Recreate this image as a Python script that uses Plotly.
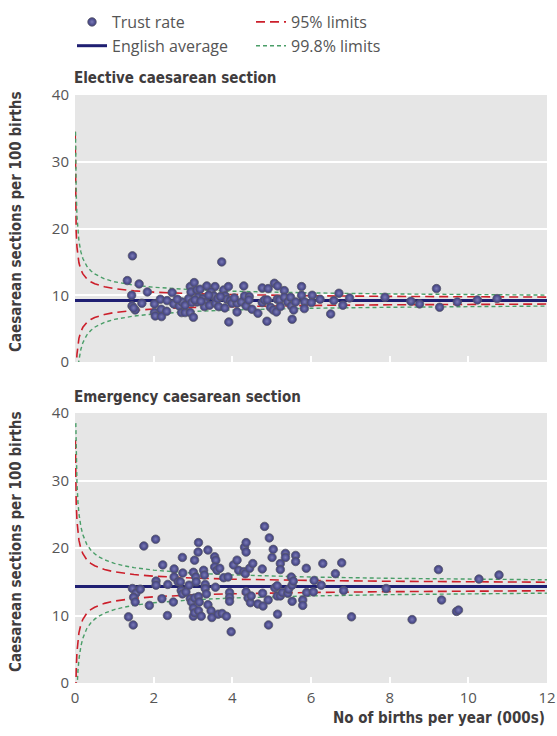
import plotly.graph_objects as go

# ---------------- data ----------------
# Elective caesarean section: births per year (000s), rate per 100 births
ELECT_X = [1.33, 1.46, 1.63, 1.84, 1.44, 1.45, 1.53, 1.49, 1.70, 2.02, 2.02, 2.04, 2.17, 2.19, 2.20,
           2.33, 2.34, 2.47, 2.51, 2.65, 2.72, 2.71, 2.80, 2.93, 3.01, 2.80, 2.89, 2.93, 3.03, 2.95,
           3.10, 3.18, 2.97, 3.10, 3.13, 3.35, 3.56, 3.46, 3.53, 3.25, 3.31, 3.29, 3.42, 3.57, 3.65,
           3.63, 3.73, 3.78, 3.90, 3.82, 3.86, 3.95, 3.81, 3.91, 3.99, 4.12, 4.12, 4.23, 4.29, 4.31,
           4.43, 4.35, 4.42, 4.50, 4.65, 4.76, 4.91, 4.76, 4.82, 4.89, 4.88, 4.97, 5.04, 5.12, 5.07,
           5.15, 5.14, 5.20, 5.22, 5.32, 5.32, 5.41, 5.48, 5.50, 5.56, 5.52, 5.61, 5.76, 5.76, 5.84,
           5.83, 6.03, 6.01, 6.23, 6.50, 6.58, 6.71, 6.81, 6.98, 7.88, 8.54, 8.76, 9.19, 9.27, 9.72,
           10.23, 10.73, 3.05, 3.20, 3.70, 3.40, 4.05, 2.60]
ELECT_Y = [12.2, 15.9, 11.7, 10.5, 10.0, 8.4, 7.8, 8.1, 8.8, 8.7, 7.4, 6.9, 9.4, 7.9, 6.8,
           7.6, 9.2, 10.4, 8.7, 8.4, 9.0, 7.4, 7.4, 7.4, 6.7, 8.5, 9.5, 11.3, 11.9, 10.5,
           10.8, 10.9, 8.9, 9.0, 9.7, 11.4, 11.3, 10.5, 9.9, 9.5, 8.9, 8.3, 8.5, 8.8, 8.3,
           9.5, 15.0, 10.8, 11.3, 9.9, 9.4, 9.2, 8.1, 6.0, 8.8, 8.8, 7.5, 9.0, 11.4, 9.9,
           9.8, 8.4, 9.3, 7.9, 7.3, 11.1, 11.0, 8.9, 9.3, 9.3, 6.1, 8.2, 7.8, 7.5, 11.8,
           11.4, 9.4, 9.3, 8.3, 10.7, 9.7, 9.0, 9.7, 8.4, 7.8, 6.4, 9.0, 11.3, 10.0, 9.0,
           8.0, 10.0, 8.9, 9.4, 7.2, 9.2, 10.3, 8.5, 9.6, 9.7, 9.1, 8.7, 11.0, 8.2, 9.0,
           9.3, 9.5, 9.3, 9.1, 9.8, 10.0, 9.6, 9.4]

# Emergency caesarean section
EMERG_X = [1.36, 1.48, 1.46, 1.55, 1.66, 1.49, 1.53, 1.75, 1.89, 2.05, 2.06, 2.06, 2.21, 2.23, 2.35,
           2.36, 2.50, 2.52, 2.52, 2.62, 2.68, 2.70, 2.73, 2.73, 2.74, 2.82, 2.90, 2.93, 2.96, 3.01,
           3.01, 3.01, 3.04, 3.04, 3.04, 3.07, 3.08, 3.13, 3.14, 3.14, 3.14, 3.16, 3.21, 3.27, 3.29,
           3.31, 3.31, 3.34, 3.38, 3.38, 3.46, 3.48, 3.55, 3.58, 3.55, 3.61, 3.68, 3.57, 3.64, 3.74,
           3.78, 3.85, 3.89, 3.93, 3.93, 3.93, 3.97, 4.03, 4.12, 4.16, 4.29, 4.31, 4.33, 4.35, 4.35,
           4.35, 4.40, 4.44, 4.46, 4.48, 4.52, 4.65, 4.76, 4.77, 4.78, 4.82, 4.91, 4.92, 4.94, 5.01,
           5.04, 5.08, 5.14, 5.14, 5.15, 5.22, 5.22, 5.22, 5.27, 5.35, 5.35, 5.41, 5.43, 5.50, 5.52,
           5.52, 5.55, 5.61, 5.61, 5.79, 5.79, 5.88, 5.89, 6.06, 6.08, 6.26, 6.30, 6.62, 6.78, 6.83,
           7.03, 7.91, 8.57, 9.24, 9.32, 9.70, 9.75, 10.27, 10.78]
EMERG_Y = [9.8, 8.6, 14.0, 13.3, 13.9, 12.7, 12.0, 20.3, 11.5, 21.3, 15.1, 14.5, 12.5, 17.5, 10.0,
           14.6, 12.0, 16.9, 15.7, 15.0, 15.0, 13.7, 13.2, 18.6, 16.3, 13.5, 14.5, 12.5, 12.0, 16.4,
           11.1, 9.9, 18.2, 12.6, 10.4, 15.7, 15.0, 19.4, 20.8, 12.8, 10.7, 12.0, 9.9, 16.7, 16.0,
           14.6, 14.0, 13.2, 19.7, 11.6, 10.7, 9.7, 18.7, 18.2, 17.2, 16.7, 17.0, 14.2, 10.2, 10.3,
           15.6, 9.9, 15.7, 13.4, 12.7, 12.1, 7.6, 17.5, 18.2, 16.7, 16.5, 20.1, 16.2, 20.8, 19.4,
           13.5, 12.6, 17.0, 11.9, 12.9, 17.7, 11.7, 16.9, 13.3, 11.4, 23.2, 12.3, 8.6, 21.5, 18.6,
           19.8, 14.1, 14.4, 12.9, 10.2, 17.7, 16.8, 12.9, 13.4, 19.2, 18.6, 13.3, 13.9, 15.7, 14.5,
           12.1, 15.1, 18.9, 18.0, 12.3, 11.5, 17.0, 13.4, 13.5, 15.2, 14.5, 17.7, 16.2, 17.8, 13.7,
           9.8, 14.0, 9.4, 16.8, 12.3, 10.6, 10.8, 15.4, 16.0]

# English averages (per 100 births)
ELECT_AVG = 9.2
EMERG_AVG = 14.3

LIM_X = [0.005, 0.01, 0.0125, 0.02, 0.03, 0.05, 0.075, 0.1, 0.15, 0.2, 0.3, 0.4, 0.5, 0.6,
         0.75, 1, 1.25, 1.5, 2, 2.5, 3, 4, 5, 6, 8, 10, 12]
ELECT_95 = [25.3, 17.9, 16.0, 12.7, 10.35, 8.02, 6.55, 5.66, 4.63, 4.00, 3.27, 2.83, 2.53, 2.31,
            2.07, 1.79, 1.60, 1.46, 1.27, 1.13, 1.03, 0.90, 0.80, 0.73, 0.63, 0.57, 0.52]
ELECT_998 = [None, None, 25.3, 20.0, 16.3, 12.6, 10.3, 8.93, 7.29, 6.30, 5.16, 4.47, 3.99, 3.65,
             3.26, 2.82, 2.53, 2.31, 2.00, 1.79, 1.63, 1.41, 1.26, 1.15, 1.00, 0.89, 0.82]
EMERG_95 = [None, 21.7, 19.4, 15.3, 12.5, 9.70, 7.92, 6.86, 5.61, 4.86, 3.96, 3.43, 3.07, 2.80,
            2.50, 2.17, 1.94, 1.77, 1.53, 1.37, 1.25, 1.08, 0.97, 0.89, 0.77, 0.69, 0.63]
EMERG_998 = [None, None, None, 24.2, 19.7, 15.3, 12.5, 10.8, 8.84, 7.66, 6.24, 5.41, 4.84, 4.42,
             3.95, 3.42, 3.06, 2.79, 2.42, 2.16, 1.97, 1.71, 1.53, 1.40, 1.21, 1.08, 0.99]

X_TICKS = [0, 2, 4, 6, 8, 10, 12]
Y_TICKS = [0, 10, 20, 30, 40]

PANEL_TITLES = ["Elective caesarean section", "Emergency caesarean section"]
Y_TITLE = "Caesarean sections per 100 births"
X_TITLE = "No of births per year (000s)"

# ---------------- style ----------------
DOT = "#3b3b7c"
DOT_HI = "#7b7bb8"
AVG_C = "#1f1f72"
RED = "#cc1f2b"
GREEN = "#4a9e68"
TXT = "#555555"
BOLD_C = "#403c3d"
BG = "#e6e6e6"
REG_FONT = "Open Sans, Noto Sans, sans-serif"
BOLD_FONT = "DejaVu Sans Condensed, DejaVu Sans, sans-serif"

fig = go.Figure()


def upper(avg, offs):
    return [None if o is None else avg + o for o in offs]


def lower(avg, offs):
    return [None if o is None else avg - o for o in offs]


def add_panel(xs, ys, avg, off95, off998, xa, ya, legend_on):
    # 95% limits
    for i, f in enumerate((upper, lower)):
        fig.add_trace(go.Scatter(
            x=LIM_X, y=f(avg, off95), mode="lines", xaxis=xa, yaxis=ya,
            line=dict(color=RED, width=1.6, dash="9px,5px"),
            name="95% limits", legend="legend2", legendgroup="l95", legendrank=1,
            showlegend=legend_on and i == 0, hoverinfo="skip"))
    # 99.8% limits
    for i, f in enumerate((upper, lower)):
        fig.add_trace(go.Scatter(
            x=LIM_X, y=f(avg, off998), mode="lines", xaxis=xa, yaxis=ya,
            line=dict(color=GREEN, width=1.4, dash="4px,3px"),
            name="99.8% limits", legend="legend2", legendgroup="l998", legendrank=2,
            showlegend=legend_on and i == 0, hoverinfo="skip"))
    # English average
    fig.add_trace(go.Scatter(
        x=[0, 12], y=[avg, avg], mode="lines", xaxis=xa, yaxis=ya,
        line=dict(color=AVG_C, width=3),
        name="English average", legend="legend", legendgroup="avg", legendrank=2,
        showlegend=legend_on))
    # Trust rates
    fig.add_trace(go.Scatter(
        x=xs, y=ys, mode="markers", xaxis=xa, yaxis=ya,
        marker=dict(size=8.5, color=DOT, line=dict(color="#5a5a6a", width=0.8),
                    gradient=dict(type="radial", color=DOT_HI)),
        name="Trust rate", legend="legend", legendgroup="trust", legendrank=1,
        showlegend=legend_on))


add_panel(ELECT_X, ELECT_Y, ELECT_AVG, ELECT_95, ELECT_998, "x", "y", True)
add_panel(EMERG_X, EMERG_Y, EMERG_AVG, EMERG_95, EMERG_998, "x2", "y2", False)

W, H = 557, 736
ML, MR, MT, MB = 75, 10, 95, 53
PW, PH = W - ML - MR, H - MT - MB


def py2paper(py):
    return (H - MB - py) / PH


def px2paper(px):
    return (px - ML) / PW


xax = dict(range=[0, 12], tickvals=X_TICKS, ticks="inside", tickcolor="white",
           ticklen=6, tickwidth=2, showgrid=False, zeroline=False, showline=False,
           ticklabelstandoff=4,
           tickfont=dict(family=REG_FONT, size=15, color=TXT))
yax = dict(range=[0, 40], tickvals=Y_TICKS, ticks="", showgrid=True, gridcolor="white",
           gridwidth=2, zeroline=False, showline=False, ticklabelstandoff=5,
           tickfont=dict(family=REG_FONT, size=15, color=TXT))

fig.update_layout(
    width=W, height=H,
    margin=dict(l=ML, r=MR, t=MT, b=MB, autoexpand=False),
    paper_bgcolor="white", plot_bgcolor=BG,
    xaxis=dict(xax, domain=[0, 1], anchor="y", showticklabels=False),
    yaxis=dict(yax, domain=[py2paper(362), 1], anchor="x"),
    xaxis2=dict(xax, domain=[0, 1], anchor="y2", showticklabels=True),
    yaxis2=dict(yax, domain=[0, py2paper(413)], anchor="x2"),
    legend=dict(x=px2paper(72), y=py2paper(5), xanchor="left", yanchor="top",
                traceorder="normal", tracegroupgap=14, bgcolor="rgba(0,0,0,0)",
                font=dict(family=REG_FONT, size=16, color=TXT)),
    legend2=dict(x=px2paper(251), y=py2paper(5), xanchor="left", yanchor="top",
                 traceorder="normal", tracegroupgap=14, bgcolor="rgba(0,0,0,0)",
                 font=dict(family=REG_FONT, size=16, color=TXT)),
    showlegend=True,
)

annotations = [
    dict(text="<b>" + PANEL_TITLES[0] + "</b>", x=px2paper(72), y=py2paper(78),
         xanchor="left", yanchor="middle"),
    dict(text="<b>" + PANEL_TITLES[1] + "</b>", x=px2paper(72), y=py2paper(397),
         xanchor="left", yanchor="middle"),
    dict(text="<b>" + X_TITLE + "</b>", x=1, y=py2paper(718),
         xanchor="right", yanchor="middle"),
    dict(text="<b>" + Y_TITLE + "</b>", x=px2paper(16), y=py2paper(222),
         xanchor="center", yanchor="middle", textangle=-90),
    dict(text="<b>" + Y_TITLE + "</b>", x=px2paper(16), y=py2paper(542),
         xanchor="center", yanchor="middle", textangle=-90),
]
for a in annotations:
    a.update(xref="paper", yref="paper", showarrow=False,
             font=dict(family=BOLD_FONT, size=15, color=BOLD_C))
fig.update_layout(annotations=annotations)

fig.write_html("out.html", config={"displayModeBar": False},
               post_script="document.body.style.margin='0';document.body.style.padding='0';")
